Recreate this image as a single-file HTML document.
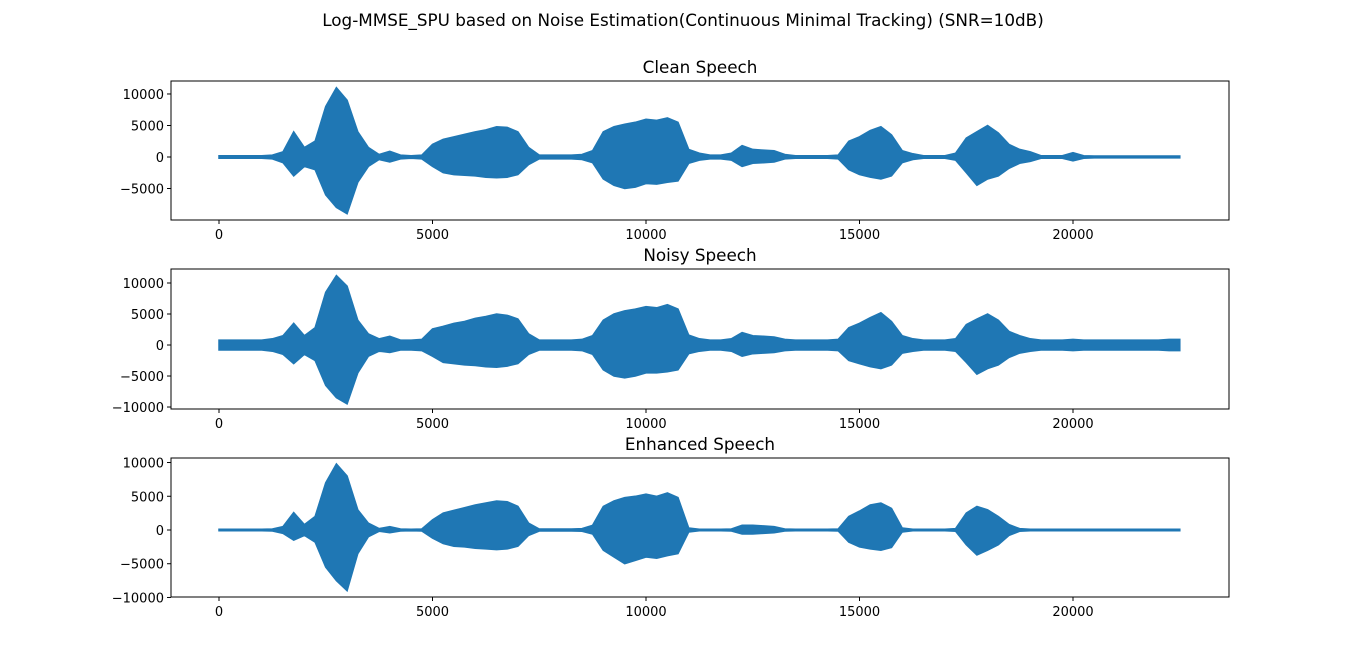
<!DOCTYPE html>
<html><head><meta charset="utf-8">
<style>
body{margin:0;background:#fff;overflow:hidden;}
svg{display:block;}
svg text{font-family:"DejaVu Sans","Liberation Sans",sans-serif;fill:#000;}
</style></head>
<body>
<svg id="fig" width="1366" height="671" xmlns="http://www.w3.org/2000/svg">
<rect width="1366" height="671" fill="#fff"/>
<text x="683" y="26" font-size="16.8" text-anchor="middle">Log-MMSE_SPU based on Noise Estimation(Continuous Minimal Tracking) (SNR=10dB)</text>
</svg>
<script>
const step = 250;
const xTicks = [0, 5000, 10000, 15000, 20000];
const cleanHi = [200,200,200,200,200,300,800,4000,1500,2500,8000,11000,9000,4000,1500,400,900,300,200,300,2000,2800,3200,3600,4000,4300,4800,4700,4000,1500,300,300,300,300,400,1000,4000,4800,5200,5500,6000,5800,6200,5500,1200,600,300,300,600,1800,1200,1100,1000,400,200,200,200,200,300,2500,3200,4200,4800,3500,1000,500,200,200,200,600,3000,4000,5000,3800,2000,1200,800,200,200,200,700,200,150,150,150,150,150,150,150,150,150];
const cleanLo = [-200,-200,-200,-200,-200,-300,-900,-3000,-1500,-2000,-6000,-8000,-9000,-4000,-1500,-400,-800,-300,-200,-300,-1500,-2500,-2800,-2900,-3000,-3200,-3300,-3200,-2800,-1200,-300,-300,-300,-300,-400,-900,-3500,-4500,-5000,-4800,-4200,-4300,-4000,-3800,-1000,-500,-300,-300,-500,-1500,-1000,-900,-800,-300,-200,-200,-200,-200,-300,-2000,-2800,-3200,-3500,-3000,-900,-400,-200,-200,-200,-500,-2500,-4500,-3500,-3000,-1800,-1000,-700,-200,-200,-200,-600,-200,-150,-150,-150,-150,-150,-150,-150,-150,-150];
const noisyHi = [800,800,800,800,800,1000,1500,3500,1500,2800,8500,11200,9500,4000,1800,1000,1400,800,800,900,2600,3000,3500,3800,4300,4600,5000,4800,4200,1800,800,800,800,800,900,1500,4000,5000,5500,5800,6200,6000,6500,5800,1600,1000,800,800,1000,2000,1500,1400,1300,900,800,800,800,800,900,2800,3500,4400,5200,3800,1500,1000,800,800,800,1000,3300,4200,5000,4000,2200,1500,1000,800,800,800,900,800,800,800,800,800,800,800,800,900,900];
const noisyLo = [-800,-800,-800,-800,-800,-1000,-1500,-3000,-1500,-2500,-6500,-8500,-9500,-4500,-1800,-1000,-1200,-800,-800,-900,-1800,-2800,-3000,-3200,-3300,-3500,-3600,-3400,-3000,-1500,-800,-800,-800,-800,-900,-1500,-4000,-5000,-5300,-5000,-4500,-4500,-4300,-4000,-1400,-1000,-800,-800,-1000,-1800,-1400,-1300,-1200,-900,-800,-800,-800,-800,-900,-2500,-3000,-3500,-3800,-3200,-1300,-1000,-800,-800,-800,-1000,-2800,-4700,-3800,-3200,-2000,-1300,-1000,-800,-800,-800,-900,-800,-800,-800,-800,-800,-800,-800,-800,-900,-900];
const enhHi = [100,100,100,100,100,150,500,2600,800,2000,7000,9800,8000,3000,1000,200,500,150,100,150,1500,2500,2900,3300,3700,4000,4300,4200,3500,1000,150,150,150,150,200,700,3500,4300,4800,5000,5300,5000,5500,4800,300,100,100,100,150,700,700,600,500,150,100,100,100,100,150,2000,2800,3700,4000,3200,300,100,100,100,100,200,2500,3500,3000,2000,800,200,100,100,100,100,100,100,100,100,100,100,100,100,100,100,100];
const enhLo = [-100,-100,-100,-100,-100,-150,-500,-1500,-800,-1800,-5500,-7500,-9000,-3500,-1000,-200,-400,-150,-100,-150,-1200,-2000,-2400,-2500,-2700,-2800,-2900,-2800,-2400,-800,-150,-150,-150,-150,-200,-600,-3000,-4000,-5000,-4500,-4000,-4200,-3800,-3500,-300,-100,-100,-100,-150,-600,-600,-500,-400,-150,-100,-100,-100,-100,-150,-1800,-2500,-2800,-3000,-2600,-300,-100,-100,-100,-100,-200,-2200,-3700,-3000,-2200,-800,-200,-100,-100,-100,-100,-100,-100,-100,-100,-100,-100,-100,-100,-100,-100,-100];
const titles = ["Clean Speech","Noisy Speech","Enhanced Speech"];
const yTicks1 = [-5000,0,5000,10000];
const yTicks2 = [-10000,-5000,0,5000,10000];
const yTicks3 = [-10000,-5000,0,5000,10000];

const NS = "http://www.w3.org/2000/svg";
const svg = document.getElementById('fig');
function mk(tag, attrs){const e=document.createElementNS(NS,tag);for(const k in attrs)e.setAttribute(k,attrs[k]);svg.appendChild(e);return e;}

const panels = [
 {top:81,bot:220,ymin:-10000,ymax:12060,hi:cleanHi,lo:cleanLo,ticks:yTicks1,name:'clean'},
 {top:269,bot:409,ymin:-10320,ymax:12260,hi:noisyHi,lo:noisyLo,ticks:yTicks2,name:'noisy'},
 {top:458,bot:597,ymin:-9930,ymax:10670,hi:enhHi,lo:enhLo,ticks:yTicks3,name:'enhanced'}
];
const L=171,R=1229,XMIN=-1124,XMAX=23653;
const xs = v => L + (v-XMIN)/(XMAX-XMIN)*(R-L);

panels.forEach((p,pi)=>{
  const ys = v => p.bot - (v-p.ymin)/(p.ymax-p.ymin)*(p.bot-p.top);
  let d='';
  for(let i=0;i<p.hi.length;i++){
    d += (i===0?'M':'L')+xs(i*step).toFixed(1)+','+ys(p.hi[i]).toFixed(1)+' ';
  }
  for(let i=p.lo.length-1;i>=0;i--){
    d += 'L'+xs(i*step).toFixed(1)+','+ys(p.lo[i]).toFixed(1)+' ';
  }
  const w = mk('path',{d:d+'Z',fill:'#1f77b4',stroke:'#1f77b4','stroke-width':1.5,'stroke-linejoin':'miter'});
  
  
  const fr = mk('rect',{x:L,y:p.top,width:R-L,height:p.bot-p.top,fill:'none',stroke:'#000','stroke-width':1});
  
  
  const t = mk('text',{x:(L+R)/2,y:p.top-8,'font-size':16.8,'text-anchor':'middle'});
  t.textContent = titles[pi];
  
  
  xTicks.forEach(v=>{
    const x=xs(v);
    mk('line',{x1:x,x2:x,y1:p.bot,y2:p.bot+4,stroke:'#000'});
    const tl=mk('text',{x:x,y:p.bot+19,'font-size':13,'text-anchor':'middle'});
    tl.textContent=v;
    
    
  });
  p.ticks.forEach(v=>{
    const y=ys(v);
    mk('line',{x1:L-4,x2:L,y1:y,y2:y,stroke:'#000'});
    const tl=mk('text',{x:L-7,y:y+5,'font-size':13,'text-anchor':'end'});
    tl.textContent=v<0?'\u2212'+(-v):v;
    
    
  });
});
</script>
</body></html>
